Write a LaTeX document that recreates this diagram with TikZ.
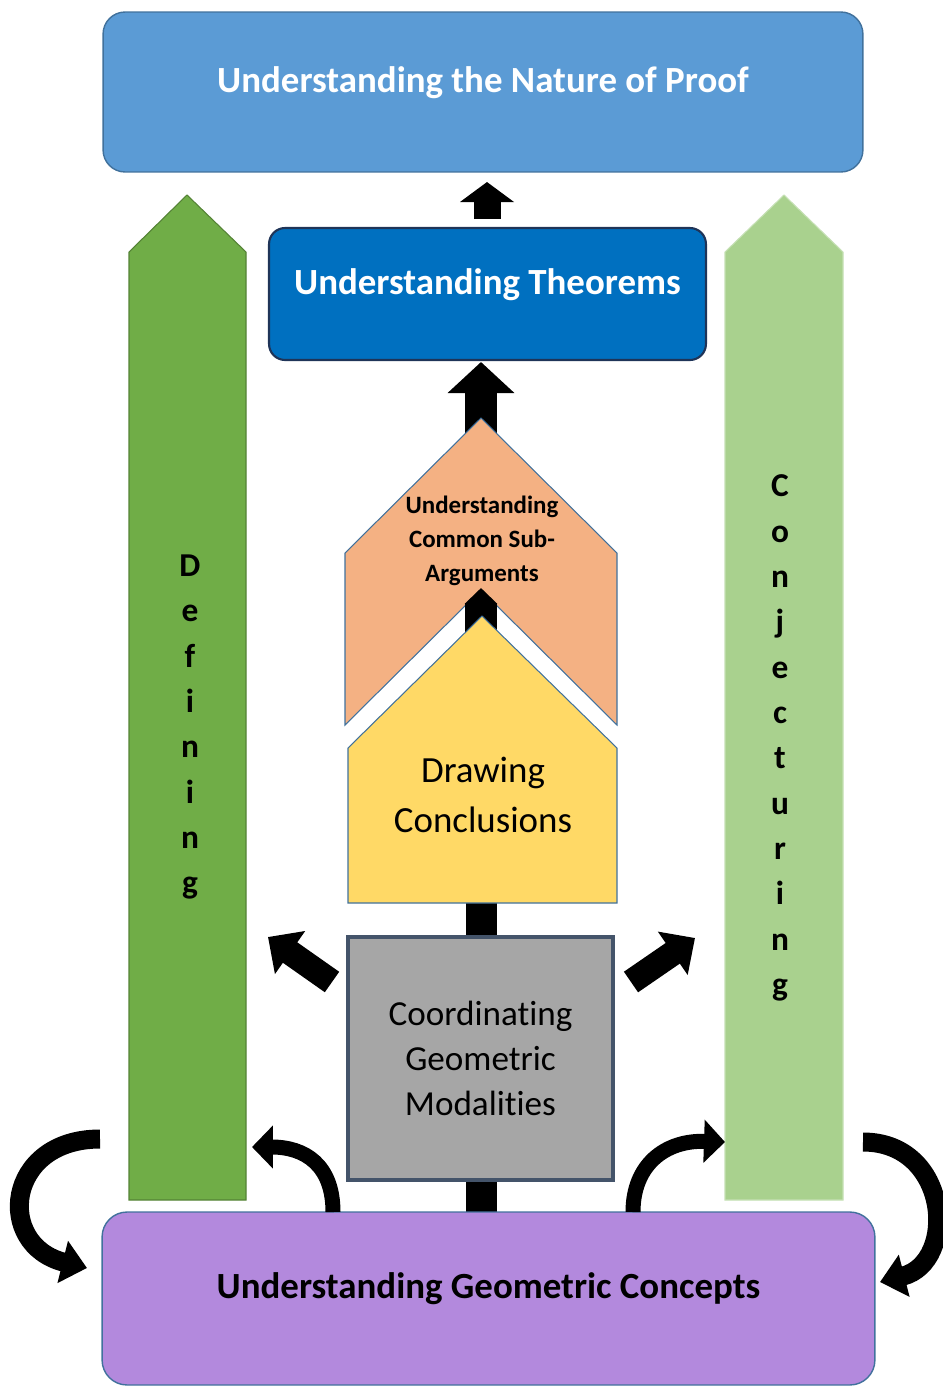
\documentclass[tikz,border=0pt]{standalone}
\usepackage{fontspec}
\setmainfont{Carlito}[Ligatures={NoCommon}]
\usetikzlibrary{arrows.meta}
\definecolor{proofBlue}{HTML}{5B9BD5}
\definecolor{proofEdge}{HTML}{41719C}
\definecolor{theoremBlue}{HTML}{0070C0}
\definecolor{theoremEdge}{HTML}{1F3458}
\definecolor{subargOrange}{HTML}{F4B183}
\definecolor{drawYellow}{HTML}{FFD966}
\definecolor{modalGray}{HTML}{A6A6A6}
\definecolor{modalEdge}{HTML}{44546A}
\definecolor{defGreen}{HTML}{70AD47}
\definecolor{defEdge}{HTML}{548235}
\definecolor{conjGreen}{HTML}{A9D18E}
\definecolor{conjEdge}{HTML}{C5E0B4}
\definecolor{conceptPurple}{HTML}{B389DD}
\tikzset{
  banner/.style={align=center, text height=3mm, text depth=3mm,
    font=\fontsize{21}{26}\selectfont\bfseries},
  proof box/.style={banner, draw=proofEdge, fill=proofBlue, text=white,
    rounded corners=0.44cm, line width=0.8pt},
  theorem box/.style={banner, draw=theoremEdge, fill=theoremBlue,
    text=white, rounded corners=0.32cm, line width=1.2pt},
  concept box/.style={banner, draw=proofEdge, fill=conceptPurple,
    rounded corners=0.5cm, line width=0.8pt},
  modal box/.style={draw=modalEdge, fill=modalGray, line width=2.3pt,
    align=center, font=\fontsize{20}{25.6}\selectfont},
  subarg shape/.style={draw=proofEdge, fill=subargOrange, line width=0.6pt},
  drawing shape/.style={draw=proofEdge, fill=drawYellow, line width=0.6pt},
  def shape/.style={draw=defEdge, fill=defGreen, line width=0.6pt},
  conj shape/.style={draw=conjEdge, fill=conjGreen, line width=0.6pt},
  spelled/.style={align=center, font=\fontsize{19}{25.8}\selectfont\bfseries},
  big up/.style={line width=0.64cm, -{Triangle[length=0.62cm, width=1.3cm]}},
  small up/.style={line width=0.54cm, -{Triangle[length=0.4cm, width=1.06cm]}},
  pointed up/.style={line width=0.64cm, -{Triangle[length=0.32cm, width=0.64cm]}},
  shaft/.style={line width=0.62cm},
  side arrow/.style={line width=0.5cm, -{Triangle[length=0.54cm, width=1.02cm]}},
  loop arrow/.style={line width=0.38cm, -{Triangle[length=0.5cm, width=0.84cm]}},
  hook arrow/.style={line width=0.3cm, -{Triangle[length=0.42cm, width=0.84cm]}}
}
\begin{document}
\begin{tikzpicture}[x=0.02cm, y=-0.02cm]
  \useasboundingbox (0,0) rectangle (943,1387);
  \coordinate (theorems-out) at (487,219);
  \coordinate (theorems-in) at (481,362);
  \coordinate (subarg-out) at (481,440);
  \coordinate (subarg-in) at (481,588);
  \coordinate (drawing-out) at (481,660);
  \coordinate (drawing-in) at (481,890);
  \coordinate (modal-low) at (481,1225);
  \coordinate (left-tail) at (332,982);
  \coordinate (left-tip) at (268,937);
  \coordinate (right-tail) at (631,982);
  \coordinate (right-tip) at (695,938);
  \coordinate (def-back) at (100,1139);
  \coordinate (def-front) at (252,1147);
  \coordinate (conj-front) at (725,1142);
  \coordinate (conj-back) at (863,1142);
  \coordinate (concepts-west) at (87,1268);
  \coordinate (concepts-east) at (880,1282);
  \coordinate (concepts-nw) at (333,1212);
  \coordinate (concepts-ne) at (633,1212);

  \filldraw[def shape] (129,1200) -- (129,252) -- (187,195) -- (246,252)
    -- (246,1200) -- cycle;
  \filldraw[conj shape] (725,1200) -- (725,252) -- (784,195) -- (843,252)
    -- (843,1200) -- cycle;
  \node[spelled] (defining) at (190,727)
    {D\\e\\f\\i\\n\\i\\n\\g};
  \node[spelled] (conjecturing) at (780,738)
    {C\\o\\n\\j\\e\\c\\t\\u\\r\\i\\n\\g};

  \draw[big up] (subarg-out) -- (theorems-in);
  \draw[shaft] (modal-low) -- (drawing-in);
  \filldraw[subarg shape] (345,725) -- (345,553) -- (481,418) -- (617,553)
    -- (617,725) -- (481,590) -- cycle;
  \draw[pointed up] (drawing-out) -- (subarg-in);
  \filldraw[drawing shape] (348,903) -- (348,748) -- (482,616) -- (617,748)
    -- (617,903) -- cycle;
  \node[align=center, font=\fontsize{14.2}{19.3}\selectfont\bfseries] (subarg)
    at (482,541) {Understanding\\Common Sub-\\Arguments};
  \node[align=center, font=\fontsize{21}{28.5}\selectfont] (drawing)
    at (483,795) {Drawing\\Conclusions};

  \node[proof box, minimum width=15.2cm, minimum height=3.2cm] (nature)
    at (483,92) {Understanding the Nature of Proof};
  \node[theorem box, minimum width=8.74cm, minimum height=2.64cm] (theorems)
    at (487.5,294) {Understanding Theorems};
  \draw[small up] (theorems-out) -- (487,182);
  \node[modal box, minimum width=5.3cm, minimum height=4.86cm] (modal)
    at (480.5,1058.5) {Coordinating\\Geometric\\Modalities};
  \node[concept box, minimum width=15.46cm, minimum height=3.46cm] (concepts)
    at (488.5,1298.5) {Understanding Geometric Concepts};

  \draw[side arrow] (left-tail) -- (left-tip);
  \draw[side arrow] (right-tail) -- (right-tip);
  \draw[loop arrow] (def-back) .. controls (5,1139) and (-5,1245)
    .. (concepts-west);
  \draw[loop arrow] (conj-back) .. controls (950,1142) and (958,1262)
    .. (concepts-east);
  \draw[hook arrow] (concepts-nw) .. controls (333,1165) and (305,1147)
    .. (def-front);
  \draw[hook arrow] (concepts-ne) .. controls (633,1165) and (665,1140)
    .. (conj-front);
\end{tikzpicture}
\end{document}
